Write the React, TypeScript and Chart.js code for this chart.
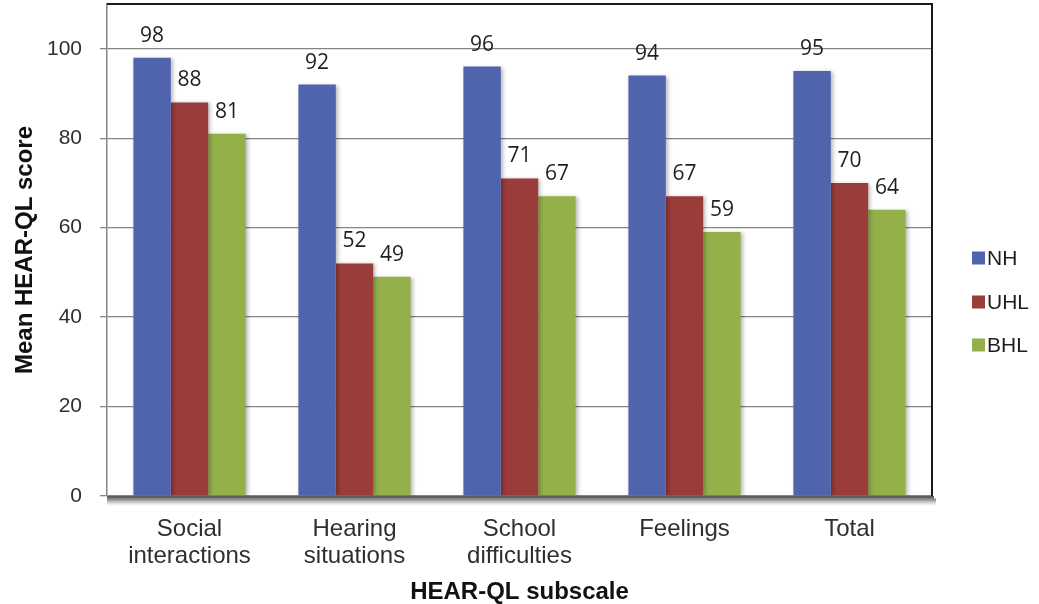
import React, { useEffect, useRef } from "react";
import { Chart, registerables } from "chart.js";

Chart.register(...registerables);

// HEAR-QL subscales and mean scores per hearing group
const categories: string[][] = [
  ["Social", "interactions"],
  ["Hearing", "situations"],
  ["School", "difficulties"],
  ["Feelings"],
  ["Total"],
];
const seriesNames = ["NH", "UHL", "BHL"];
const nhScores = [98, 92, 96, 94, 95];
const uhlScores = [88, 52, 71, 67, 70];
const bhlScores = [81, 49, 67, 59, 64];
const yTickValues = [0, 20, 40, 60, 80, 100];

const seriesColors = ["#5064ae", "#9a3c3a", "#93b04a"];
const axisFont = "'Liberation Sans', Arial, sans-serif";
const labelFont = "'Open Sans', 'Noto Sans', sans-serif";

// Gray floor under the bars, plot frame, bar shadows, value labels and legend
const decorPlugin = {
  id: "decor",
  beforeDatasetsDraw(chart: any) {
    const ctx = chart.ctx;
    ctx.save();
    ctx.shadowColor = "rgba(0,0,0,0.28)";
    ctx.shadowBlur = 4;
    ctx.shadowOffsetX = 2;
    ctx.shadowOffsetY = 1;
  },
  afterDatasetsDraw(chart: any) {
    const ctx = chart.ctx;
    ctx.restore();
    const area = chart.chartArea;

    // frame on top and right
    ctx.save();
    ctx.strokeStyle = "#1a1a1a";
    ctx.lineWidth = 2;
    ctx.beginPath();
    ctx.moveTo(area.left, area.top);
    ctx.lineTo(area.right, area.top);
    ctx.lineTo(area.right, area.bottom);
    ctx.stroke();
    ctx.restore();

    // floor
    ctx.save();
    ctx.fillStyle = "#5f5f5f";
    ctx.fillRect(area.left, area.bottom, area.right - area.left + 2, 2.5);
    const g = ctx.createLinearGradient(0, area.bottom + 2.5, 0, area.bottom + 10);
    g.addColorStop(0, "rgba(70,70,70,0.75)");
    g.addColorStop(1, "rgba(160,160,160,0)");
    ctx.fillStyle = g;
    ctx.fillRect(area.left, area.bottom + 2.5, area.right - area.left + 4, 7.5);
    ctx.restore();

    // value labels
    ctx.save();
    ctx.font = `21px ${labelFont}`;
    ctx.fillStyle = "#1f1f1f";
    ctx.textAlign = "center";
    ctx.textBaseline = "alphabetic";
    chart.data.datasets.forEach((ds: any, i: number) => {
      const meta = chart.getDatasetMeta(i);
      meta.data.forEach((el: any, j: number) => {
        ctx.fillText(String(ds.data[j]), el.x, el.y - 16);
      });
    });
    ctx.restore();

    // legend
    ctx.save();
    ctx.font = `21px ${axisFont}`;
    ctx.textBaseline = "middle";
    ctx.textAlign = "left";
    const centers = [258, 302, 345];
    chart.data.datasets.forEach((ds: any, i: number) => {
      const cy = centers[i];
      ctx.fillStyle = ds.backgroundColor;
      ctx.fillRect(972, cy - 6.5, 13, 13);
      ctx.fillStyle = "#1f1f1f";
      ctx.fillText(ds.label, 987, cy + 1);
    });
    ctx.restore();
  },
};

export default function App() {
  const canvasRef = useRef<HTMLCanvasElement | null>(null);

  useEffect(() => {
    const canvas = canvasRef.current;
    if (!canvas) return;
    const allScores = [nhScores, uhlScores, bhlScores];
    const chart = new Chart(canvas, {
      type: "bar",
      data: {
        labels: categories,
        datasets: seriesNames.map((name, i) => ({
          label: name,
          data: allScores[i],
          backgroundColor: seriesColors[i],
          borderWidth: 0,
          barPercentage: 1,
          categoryPercentage: 0.68,
        })),
      },
      options: {
        responsive: false,
        animation: false,
        layout: { padding: { top: 4, right: 107, bottom: 0, left: 0 } },
        plugins: {
          legend: { display: false },
          tooltip: { enabled: false },
        },
        scales: {
          x: {
            grid: { display: false, drawTicks: false },
            border: { display: false },
            ticks: {
              color: "#2f2f2f",
              padding: 20,
              font: { family: axisFont, size: 24, lineHeight: 1.125 },
              maxRotation: 0,
              autoSkip: false,
            },
            title: {
              display: true,
              text: "HEAR-QL subscale",
              color: "#111",
              font: { family: axisFont, size: 24, weight: "bold", lineHeight: 1 },
              padding: { top: 0, bottom: 0 },
            },
            afterFit(scale: any) {
              scale.height = 108;
              scale.paddingLeft = 0;
              scale.paddingRight = 0;
            },
          },
          y: {
            min: 0,
            max: 110,
            afterBuildTicks(scale: any) {
              scale.ticks = yTickValues.map((v) => ({ value: v }));
            },
            grid: {
              color: "#858585",
              lineWidth: 1.3,
              drawTicks: true,
              tickLength: 7,
            },
            border: { display: true, color: "#858585", width: 1.5 },
            ticks: {
              color: "#2f2f2f",
              padding: 18,
              font: { family: axisFont, size: 21 },
            },
            title: {
              display: true,
              text: "Mean HEAR-QL score",
              color: "#111",
              font: { family: axisFont, size: 24, weight: "bold" },
              padding: { top: 11, bottom: 0 },
            },
            afterFit(scale: any) {
              scale.width = 107;
              scale.paddingTop = 0;
              scale.paddingBottom = 0;
            },
          },
        },
      },
      plugins: [decorPlugin],
    } as any);
    return () => chart.destroy();
  }, []);

  return (
    <div style={{ position: "fixed", left: 0, top: 0, width: 1039, height: 604, background: "#fff" }}>
      <canvas ref={canvasRef} width={1039} height={604} style={{ width: 1039, height: 604, display: "block" }} />
    </div>
  );
}
